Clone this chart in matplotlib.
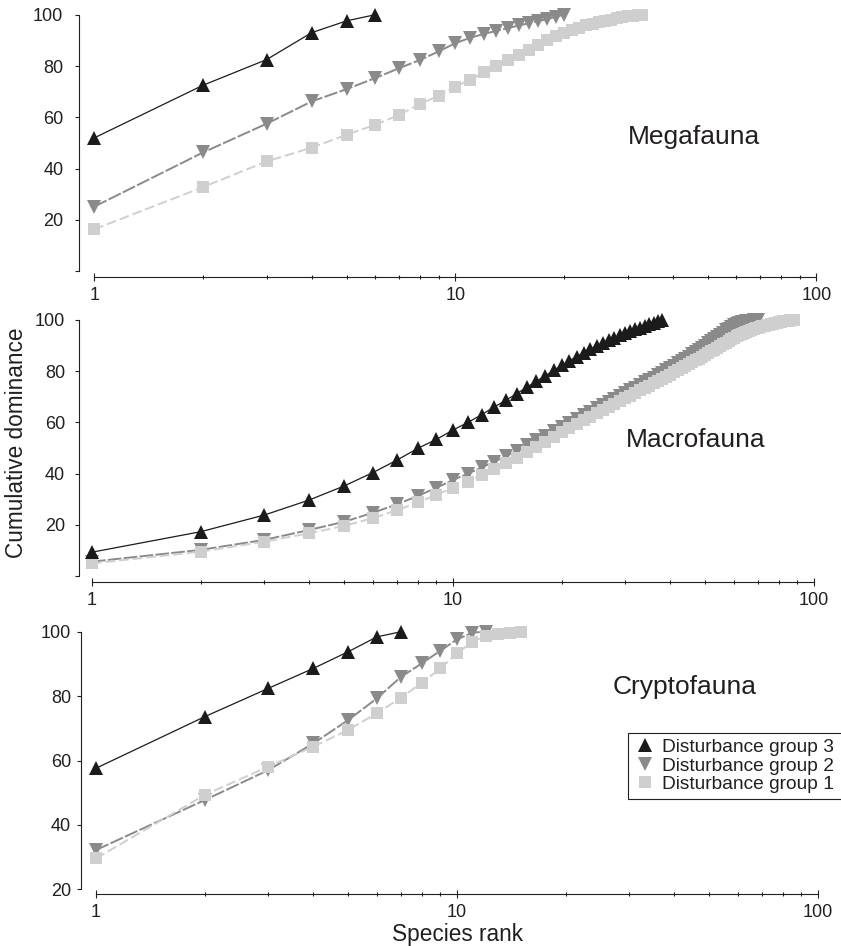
import numpy as np
import matplotlib
matplotlib.use('Agg')
import matplotlib.pyplot as plt
from matplotlib.lines import Line2D
from matplotlib.ticker import FixedLocator, FixedFormatter

plt.rcParams['font.family'] = ['Liberation Sans', 'DejaVu Sans']

INK = '#231f20'
W, H = 841, 946          # figure size in pixels (dpi 100)
DECADE = 361.0           # pixels per decade on the log axis

# ---- cumulative dominance (%) per species rank ----
mega_g3 = [52, 72.5, 82.5, 93, 97.6, 100]
mega_g2 = [25.2, 46.3, 57.5, 66.2, 71, 75.3, 79.2, 82.4, 85.7, 88.9,
           91, 92.5, 93.7, 94.8, 95.8, 96.7, 97.5, 98.3, 99.2, 100]
mega_g1 = [16.4, 32.8, 42.8, 48.2, 53.2, 57.1, 61, 65.3, 68.4, 72,
           74.6, 77.5, 80, 82.3, 84.4, 86.3, 88.2, 90, 91.8, 93,
           94, 95, 95.8, 96.5, 97.1, 97.6, 98.1, 98.6, 99, 99.3,
           99.6, 99.8, 100]

macro_g3 = [9.3, 17.3, 23.8, 29.7, 35.2, 40.4, 45.3, 49.9, 53.4, 57,
            60, 63, 66, 68.6, 71.2, 73.7, 76, 78.2, 80.3, 82.3,
            84.1, 85.7, 87.2, 88.6, 89.9, 91, 92.1, 93.1, 94, 94.9,
            95.6, 96.3, 97, 97.7, 98.3, 98.9, 99.5, 100]
macro_g2 = [5.6, 10.2, 14.1, 18.0, 21.2, 24.7, 28.0, 31.3, 34.5, 37.5,
            40.0, 42.4, 44.6, 46.8, 48.9, 51.0, 53.0, 54.8, 56.6, 58.2,
            59.8, 61.3, 62.8, 64.2, 65.5, 66.7, 67.9, 69.1, 70.3, 71.4,
            72.5, 73.6, 74.6, 75.6, 76.6, 77.5, 78.5, 79.4, 80.4, 81.3,
            82.2, 83.1, 84.0, 84.9, 85.7, 86.6, 87.4, 88.2, 89.1, 90.0,
            90.9, 91.8, 92.7, 93.5, 94.3, 95.1, 95.9, 96.6, 97.3, 97.9,
            98.4, 98.8, 99.1, 99.4, 99.6, 99.7, 99.8, 99.9, 100, 100]
macro_g1 = [4.9, 9.5, 13.4, 16.7, 19.6, 22.6, 25.7, 28.8, 31.7, 34.4,
            36.9, 39.3, 41.7, 44.0, 46.2, 48.3, 50.4, 52.4, 54.3, 56.1,
            57.8, 59.4, 60.9, 62.3, 63.6, 64.9, 66.1, 67.3, 68.4, 69.5,
            70.5, 71.5, 72.5, 73.4, 74.3, 75.2, 76.1, 77.0, 77.9, 78.7,
            79.5, 80.3, 81.1, 81.9, 82.7, 83.4, 84.2, 84.9, 85.6, 86.3,
            87.0, 87.7, 88.4, 89.1, 89.8, 90.5, 91.2, 91.9, 92.5, 93.1,
            93.6, 94.1, 94.6, 95.0, 95.4, 95.8, 96.1, 96.4, 96.7, 97.0,
            97.3, 97.5, 97.8, 98.0, 98.2, 98.4, 98.6, 98.8, 99.0, 99.2,
            99.3, 99.5, 99.6, 99.7, 99.8, 99.9, 100, 100]

crypto_g3 = [57.6, 73.6, 82.4, 88.6, 93.8, 98.4, 100]
crypto_g2 = [32.2, 47.7, 57, 65.3, 72.6, 79.3, 86, 90.2, 94.1, 97.6, 99.7, 100]
crypto_g1 = [29.6, 49.3, 58.1, 64.3, 69.5, 74.7, 79.5, 84.2, 88.6, 93.3,
             96.7, 98.7, 99.3, 99.7, 100]

group_names = ['Disturbance group 3', 'Disturbance group 2', 'Disturbance group 1']
x_major = [1, 10, 100]
x_minor = [2, 3, 4, 5, 6, 7, 8, 9, 20, 30, 40, 50, 60, 70, 80, 90]

styles = {
    'g3': dict(color='#1b1b1b', lw=0.9, ls='-', marker='^', ms=10.5, zorder=4),
    'g2': dict(color='#8a8a8a', lw=1.4, ls=(0, (7, 1.2)), marker='v', ms=10.5, zorder=2),
    'g1': dict(color='#cfcfcf', lw=1.4, ls=(0, (5, 2)), marker='s', ms=8.5, zorder=3),
}

# panel geometry in pixels: spine x, x of rank 1, y of 100, y of lowest tick,
# lowest tick value, y of x axis line, y tick label pad
panels = [
    dict(name='Megafauna', data=(mega_g3, mega_g2, mega_g1),
         sx=79.3, x1=94.3, y100=14.7, ylo=271.3, vlo=0, xax=277,
         yticks=[0, 20, 40, 60, 80, 100], ypad=8.5, txt=(693.5, 144)),
    dict(name='Macrofauna', data=(macro_g3, macro_g2, macro_g1),
         sx=79, x1=92, y100=320, ylo=576, vlo=0, xax=581.7,
         yticks=[0, 20, 40, 60, 80, 100], ypad=7, txt=(695.5, 446.7)),
    dict(name='Cryptofauna', data=(crypto_g3, crypto_g2, crypto_g1),
         sx=80.7, x1=96, y100=631.7, ylo=889.3, vlo=20, xax=894.3,
         yticks=[20, 40, 60, 80, 100], ypad=4, txt=(685, 694)),
]

fig = plt.figure(figsize=(W / 100, H / 100), dpi=100)
right_px = 838

for p in panels:
    ppu = (p['ylo'] - p['y100']) / (100 - p['vlo'])
    top_px = p['y100'] - 8
    ax = fig.add_axes([p['sx'] / W, 1 - p['xax'] / H,
                       (right_px - p['sx']) / W, (p['xax'] - top_px) / H])
    ax.set_xscale('log')
    ax.set_xlim(10 ** (-(p['x1'] - p['sx']) / DECADE),
                10 ** ((right_px - p['x1']) / DECADE))
    ax.set_ylim(p['vlo'] - (p['xax'] - p['ylo']) / ppu, 100 + 8 / ppu)

    for key, vals in zip(['g2', 'g1', 'g3'], [p['data'][1], p['data'][2], p['data'][0]]):
        st = styles[key]
        ranks = np.arange(1, len(vals) + 1)
        ax.plot(ranks, vals, color=st['color'], lw=st['lw'], ls=st['ls'],
                marker=st['marker'], ms=st['ms'], mew=0, mfc=st['color'],
                zorder=st['zorder'], clip_on=False)

    for s in ['top', 'right']:
        ax.spines[s].set_visible(False)
    for s in ['left', 'bottom']:
        ax.spines[s].set_linewidth(0.8)
        ax.spines[s].set_color(INK)
    ax.spines['left'].set_bounds(p['vlo'], 100)
    ax.spines['bottom'].set_bounds(1, 100)

    ax.xaxis.set_major_locator(FixedLocator(x_major))
    ax.xaxis.set_major_formatter(FixedFormatter([str(v) for v in x_major]))
    ax.xaxis.set_minor_locator(FixedLocator(x_minor))
    ax.xaxis.set_minor_formatter(FixedFormatter([''] * len(x_minor)))
    ax.set_yticks(p['yticks'])
    ax.set_yticklabels(['' if v == 0 else str(v) for v in p['yticks']])

    ax.tick_params(axis='x', which='major', direction='inout', length=5.5,
                   width=0.8, pad=4.5, labelsize=13, color=INK, labelcolor=INK)
    ax.tick_params(axis='x', which='minor', direction='inout', length=3,
                   width=0.8, color=INK)
    ax.tick_params(axis='y', direction='out', length=3, width=0.8,
                   pad=p['ypad'], labelsize=13, color=INK, labelcolor=INK)
    ax.patch.set_visible(False)

    fig.text(p['txt'][0] / W, 1 - p['txt'][1] / H, p['name'], ha='center',
             va='baseline', fontsize=19, color=INK)

fig.text(16.7 / W, 1 - 443 / H, 'Cumulative dominance', rotation=90,
         ha='center', va='center', fontsize=16.3, color=INK)
fig.text(457 / W, 1 - 940.5 / H, 'Species rank', ha='center', va='baseline',
         fontsize=16.3, color=INK)

handles = [Line2D([], [], ls='none', marker=styles[k]['marker'], ms=styles[k]['ms'],
                  mew=0, color=styles[k]['color']) for k in ['g3', 'g2', 'g1']]
# frame runs off the right edge of the figure, as in the original
leg = fig.legend(handles, group_names, loc='upper left', mode='expand',
                 bbox_to_anchor=(628 / W, 1 - 806.5 / H, 232 / W, 73.5 / H),
                 borderaxespad=0, frameon=True, fancybox=False, edgecolor=INK,
                 framealpha=1, fontsize=13.8, borderpad=0.3, labelspacing=0.05,
                 handlelength=1.15, handletextpad=0.3)
leg.get_frame().set_linewidth(0.8)
for t in leg.get_texts():
    t.set_color(INK)

fig.savefig('out.png', dpi=100)
